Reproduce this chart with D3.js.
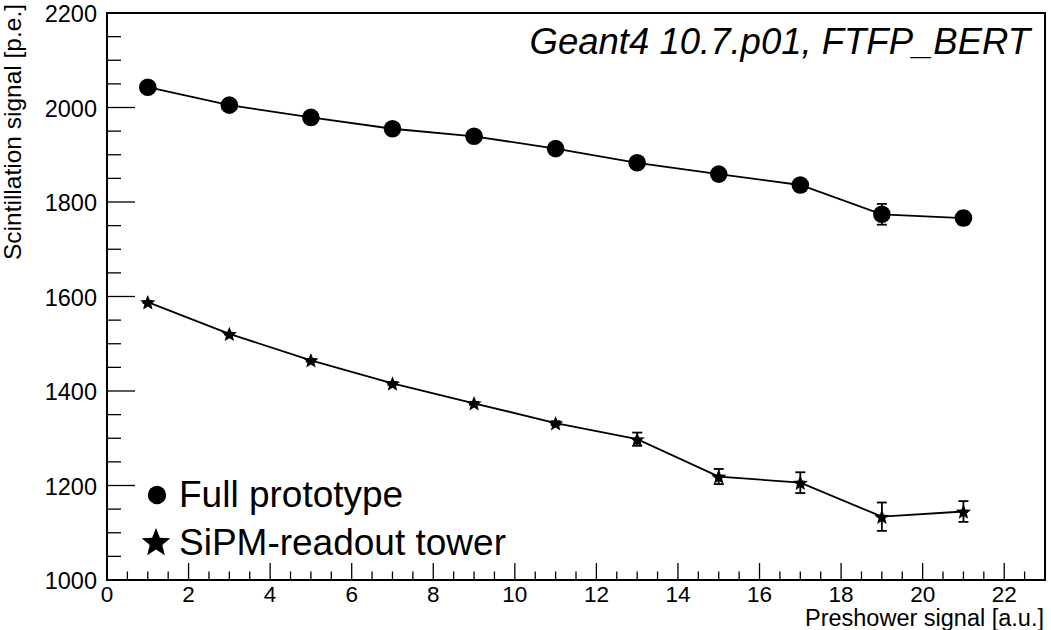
<!DOCTYPE html>
<html>
<head>
<meta charset="utf-8">
<script src="https://cdn.jsdelivr.net/npm/d3@7"></script>
<style>
  html, body { margin: 0; padding: 0; background: #fff; }
  svg { display: block; font-family: "Liberation Sans", Arial, Helvetica, sans-serif; }
</style>
</head>
<body>
<svg id="chart" width="1051" height="630"></svg>
<script>
// Preshower bins (centres)
const preshower = [1, 3, 5, 7, 9, 11, 13, 15, 17, 19, 21];
// Mean scintillation signal, full prototype
const fullSignal = [2043, 2005, 1979, 1955, 1939, 1913, 1883, 1859, 1836, 1774, 1766];
const fullError  = [3, 3, 3, 4, 4, 4, 5, 5, 6, 22, 14];
// Mean scintillation signal, SiPM-readout tower
const sipmSignal = [1588, 1521, 1465, 1416, 1374, 1332, 1298, 1219, 1206, 1134, 1145];
const sipmError  = [2, 2, 3, 3, 3, 4, 14, 16, 22, 30, 22];

const xTicks = [0, 2, 4, 6, 8, 10, 12, 14, 16, 18, 20, 22];
const yTicks = [1000, 1200, 1400, 1600, 1800, 2000, 2200];
const xDomain = [0, 23];
const yDomain = [1000, 2200];

const svg = d3.select("#chart");
const L = 107, R = 1045, T = 13, B = 580;

const x = d3.scaleLinear().domain(xDomain).range([L, R]);
const y = d3.scaleLinear().domain(yDomain).range([B, T]);

// Frame
svg.append("rect")
  .attr("x", L).attr("y", T).attr("width", R - L).attr("height", B - T)
  .attr("fill", "none").attr("stroke", "#000").attr("stroke-width", 2);

// Major and minor ticks
const xMinor = d3.range(xDomain[0], xDomain[1] + 1e-9, 0.5);
const yMinor = d3.range(yDomain[0], yDomain[1] + 1e-9, 50);

const xAxis = svg.append("g").attr("transform", `translate(0,${B})`);
xAxis.selectAll("line").data(xMinor).join("line")
  .attr("x1", d => x(d)).attr("x2", d => x(d))
  .attr("y1", 0).attr("y2", d => (Math.abs(d % 2) < 1e-9 ? -17 : -8.5))
  .attr("stroke", "#000").attr("stroke-width", 1.3);
xAxis.selectAll("text").data(xTicks).join("text")
  .attr("x", d => x(d)).attr("y", 22)
  .attr("text-anchor", "middle")
  .attr("font-size", 22.5).text(d => d);

const yAxis = svg.append("g").attr("transform", `translate(${L},0)`);
yAxis.selectAll("line").data(yMinor).join("line")
  .attr("y1", d => y(d)).attr("y2", d => y(d))
  .attr("x1", 0).attr("x2", d => (Math.abs(d % 200) < 1e-9 ? 28 : 14))
  .attr("stroke", "#000").attr("stroke-width", 1.3);
yAxis.selectAll("text").data(yTicks).join("text")
  .attr("x", -10).attr("y", d => y(d) + 9)
  .attr("text-anchor", "end")
  .attr("font-size", 23.5).text(d => d);

// Axis titles
svg.append("text")
  .attr("x", 1044).attr("y", 626)
  .attr("text-anchor", "end").attr("font-size", 23.5)
  .text("Preshower signal [a.u.]");
svg.append("text")
  .attr("transform", "translate(21,4) rotate(-90)")
  .attr("text-anchor", "end").attr("font-size", 24.5)
  .text("Scintillation signal [p.e.]");

// Five-point star marker centred at the origin
function starPath(r) {
  const inner = r * 0.44;
  const pts = [];
  for (let i = 0; i < 10; i++) {
    const rad = i % 2 === 0 ? r : inner;
    const a = -Math.PI / 2 + i * Math.PI / 5;
    pts.push([rad * Math.cos(a), rad * Math.sin(a)]);
  }
  return "M" + pts.map(p => p[0].toFixed(2) + "," + p[1].toFixed(2)).join("L") + "Z";
}

function drawSeries(values, errors, marker) {
  const pts = preshower.map((px, i) => ({ x: px, y: values[i], e: errors[i] }));
  const g = svg.append("g");
  g.append("path").datum(pts)
    .attr("d", d3.line().x(d => x(d.x)).y(d => y(d.y)))
    .attr("fill", "none").attr("stroke", "#000").attr("stroke-width", 1.8);
  const eb = g.selectAll("g.err").data(pts).join("g").attr("class", "err");
  eb.append("line")
    .attr("x1", d => x(d.x)).attr("x2", d => x(d.x))
    .attr("y1", d => y(d.y - d.e)).attr("y2", d => y(d.y + d.e))
    .attr("stroke", "#000").attr("stroke-width", 1.8);
  [1, -1].forEach(s => {
    eb.append("line")
      .attr("x1", d => x(d.x) - 5).attr("x2", d => x(d.x) + 5)
      .attr("y1", d => y(d.y + s * d.e)).attr("y2", d => y(d.y + s * d.e))
      .attr("stroke", "#000").attr("stroke-width", 1.8);
  });
  if (marker === "circle") {
    g.selectAll("circle").data(pts).join("circle")
      .attr("cx", d => x(d.x)).attr("cy", d => y(d.y)).attr("r", 8.8)
      .attr("fill", "#000");
  } else {
    g.selectAll("path.star").data(pts).join("path").attr("class", "star")
      .attr("transform", d => `translate(${x(d.x)},${y(d.y) + 0.8})`)
      .attr("d", starPath(8)).attr("fill", "#000");
  }
}

drawSeries(fullSignal, fullError, "circle");
drawSeries(sipmSignal, sipmError, "star");

// Legend
const legend = svg.append("g");
legend.append("circle").attr("cx", 157).attr("cy", 495).attr("r", 9.2).attr("fill", "#000");
legend.append("text").attr("x", 179).attr("y", 507).attr("font-size", 37).text("Full prototype");
legend.append("path").attr("transform", "translate(156,543)").attr("d", starPath(15)).attr("fill", "#000");
legend.append("text").attr("x", 179).attr("y", 555).attr("font-size", 37).text("SiPM-readout tower");

// Simulation label
svg.append("text")
  .attr("x", 1030).attr("y", 54)
  .attr("text-anchor", "end").attr("font-size", 36.5).attr("font-style", "italic")
  .text("Geant4 10.7.p01, FTFP_BERT");
</script>
</body>
</html>
